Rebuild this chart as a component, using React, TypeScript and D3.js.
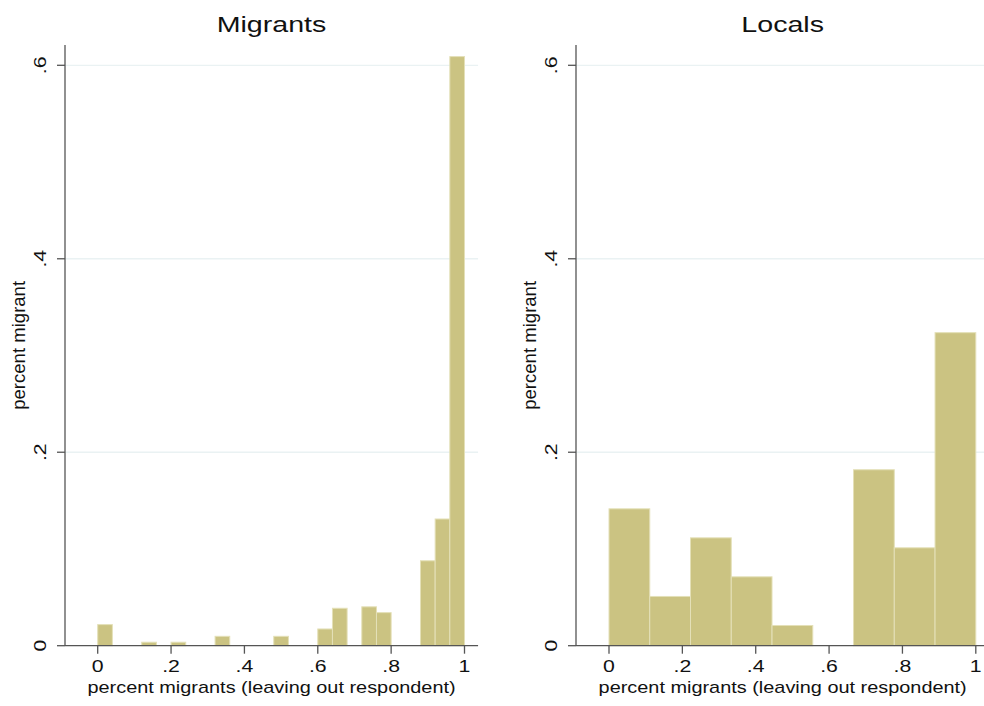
import React, { useRef, useEffect } from 'react';
import * as d3 from 'd3';

// bin starts (x value of left edge) and fractions
const migrantBinStart = [0, 0.12, 0.2, 0.32, 0.48, 0.6, 0.64, 0.72, 0.76, 0.88, 0.92, 0.96];
const migrantValues = [0.0218, 0.0036, 0.0036, 0.0097, 0.0097, 0.0173, 0.0387, 0.0402, 0.0342, 0.0878, 0.131, 0.609];
const migrantBinWidth = 0.04;

const localBinStart = [0, 1 / 9, 2 / 9, 3 / 9, 4 / 9, 6 / 9, 7 / 9, 8 / 9];
const localValues = [0.1415, 0.0509, 0.1115, 0.0712, 0.0209, 0.1819, 0.1012, 0.3236];
const localBinWidth = 1 / 9;

const xTicks = [0, 0.2, 0.4, 0.6, 0.8, 1];
const yTicks = [0, 0.2, 0.4, 0.6];
const fmt = (d: number) => (d === 0 ? '0' : d === 1 ? '1' : String(d).replace(/^0/, ''));

const FONT = '"Liberation Sans", Arial, Helvetica, sans-serif';

const App: React.FC = () => {
  const svgRef = useRef<SVGSVGElement>(null);

  useEffect(() => {
    const svg = d3.select(svgRef.current);
    svg.selectAll('*').remove();

    const top = 45;
    const bottom = 645.7;
    const yScale = d3.scaleLinear().domain([0, 0.6]).range([bottom, 65.3]);

    const panels = [
      { title: 'Migrants', axisX: 65, zero: 97.7, starts: migrantBinStart, values: migrantValues, w: migrantBinWidth },
      { title: 'Locals', axisX: 576, zero: 609, starts: localBinStart, values: localValues, w: localBinWidth },
    ];

    panels.forEach(p => {
      const xScale = d3.scaleLinear().domain([0, 1]).range([p.zero, p.zero + 366.8]);
      const right = xScale(1.037);
      const g = svg.append('g');

      // grid lines
      g.selectAll('.grid')
        .data(yTicks.filter(d => d > 0))
        .enter().append('line')
        .attr('x1', p.axisX)
        .attr('x2', right)
        .attr('y1', d => yScale(d))
        .attr('y2', d => yScale(d))
        .attr('stroke', '#eaf2f3')
        .attr('stroke-width', 1.3);

      // bars
      g.selectAll('.bar')
        .data(p.starts.map((s, i) => ({ s, v: p.values[i] })))
        .enter().append('rect')
        .attr('x', d => xScale(d.s))
        .attr('y', d => yScale(d.v))
        .attr('width', d => xScale(d.s + p.w) - xScale(d.s))
        .attr('height', d => yScale(0) - yScale(d.v))
        .attr('fill', '#cbc382')
        .attr('stroke', '#e4e0b8')
        .attr('stroke-width', 1);

      // axes lines
      g.append('line')
        .attr('x1', p.axisX).attr('x2', p.axisX)
        .attr('y1', top).attr('y2', bottom)
        .attr('stroke', '#555').attr('stroke-width', 1.3);
      g.append('line')
        .attr('x1', p.axisX).attr('x2', right)
        .attr('y1', bottom).attr('y2', bottom)
        .attr('stroke', '#555').attr('stroke-width', 1.3);

      // y ticks
      g.selectAll('.ytick')
        .data(yTicks)
        .enter().append('line')
        .attr('x1', p.axisX - 8).attr('x2', p.axisX)
        .attr('y1', d => yScale(d)).attr('y2', d => yScale(d))
        .attr('stroke', '#555').attr('stroke-width', 1.3);
      g.selectAll('.ylab')
        .data(yTicks)
        .enter().append('text')
        .attr('class', 'stretch')
        .attr('data-k', 1.25)
        .attr('transform', d => `translate(${p.axisX - 19},${yScale(d)}) rotate(-90)`)
        .attr('text-anchor', 'middle')
        .style('font-family', FONT)
        .style('font-size', '17px')
        .style('fill', '#111')
        .text(d => fmt(d));

      // x ticks
      g.selectAll('.xtick')
        .data(xTicks)
        .enter().append('line')
        .attr('x1', d => xScale(d)).attr('x2', d => xScale(d))
        .attr('y1', bottom).attr('y2', bottom + 8)
        .attr('stroke', '#555').attr('stroke-width', 1.3);
      g.selectAll('.xlab')
        .data(xTicks)
        .enter().append('text')
        .attr('class', 'stretch')
        .attr('data-k', 1.25)
        .attr('x', d => xScale(d))
        .attr('y', 672)
        .attr('text-anchor', 'middle')
        .style('font-family', FONT)
        .style('font-size', '17px')
        .style('fill', '#111')
        .text(d => fmt(d));

      const mid = (p.axisX + right) / 2;

      // axis titles
      g.append('text')
        .attr('class', 'stretch')
        .attr('data-k', 1.17)
        .attr('x', mid)
        .attr('y', 693)
        .attr('text-anchor', 'middle')
        .style('font-family', FONT)
        .style('font-size', '17px')
        .style('fill', '#111')
        .text('percent migrants (leaving out respondent)');
      g.append('text')
        .attr('class', 'stretch')
        .attr('data-k', 1.06)
        .attr('transform', `translate(${p.axisX - 40},${(top + bottom) / 2}) rotate(-90)`)
        .attr('text-anchor', 'middle')
        .style('font-family', FONT)
        .style('font-size', '17.5px')
        .style('fill', '#111')
        .text('percent migrant');

      // panel title
      g.append('text')
        .attr('class', 'stretch')
        .attr('data-k', 1.3)
        .attr('x', mid)
        .attr('y', 32)
        .attr('text-anchor', 'middle')
        .style('font-family', FONT)
        .style('font-size', '22px')
        .style('fill', '#111')
        .text(p.title);
    });

    // the reference glyphs are drawn wider than the font's own metrics
    svg.selectAll<SVGTextElement, unknown>('text.stretch').each(function () {
      const k = +(this.getAttribute('data-k') || 1);
      const len = this.getComputedTextLength();
      d3.select(this)
        .attr('textLength', len * k)
        .attr('lengthAdjust', 'spacingAndGlyphs');
    });
  }, []);

  return (
    <svg
      ref={svgRef}
      width="984"
      height="706"
      style={{ position: 'absolute', left: 0, top: 0, background: '#fff' }}
    ></svg>
  );
};

export default App;
